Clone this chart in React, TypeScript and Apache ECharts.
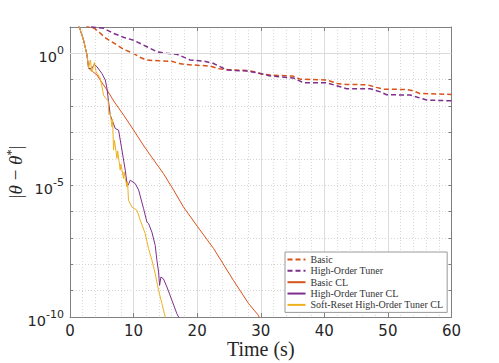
import React, { useEffect, useRef } from 'react';
import * as echarts from 'echarts';

// ---- data ----
const seriesNames = [
  'Basic',
  'High-Order Tuner',
  'Basic CL',
  'High-Order Tuner CL',
  'Soft-Reset High-Order Tuner CL',
];

const basicT = [0, 2.0, 2.8, 3.8, 4.6, 5.5, 6.5, 7.5, 8.5, 9.8, 11, 12, 14, 16, 17, 18, 20, 22, 23.5, 25, 28, 29, 30.2, 31.5, 35, 36.2, 40.4, 42, 43.5, 46.7, 48.2, 49.3, 53, 54, 55, 60];
const basicV = [60, 15, 10.2, 9.0, 6.3, 4.0, 2.8, 2.0, 1.4, 1.05, 0.71, 0.56, 0.52, 0.5, 0.42, 0.38, 0.355, 0.33, 0.26, 0.24, 0.224, 0.2, 0.162, 0.151, 0.138, 0.105, 0.098, 0.072, 0.066, 0.0646, 0.0513, 0.0437, 0.0427, 0.038, 0.0302, 0.0275];

const hotT = [0, 2.5, 3.1, 4.2, 5.3, 6.85, 8.5, 10, 12.1, 13.7, 15.2, 16.8, 18.9, 21, 22.5, 24.7, 27.8, 29.9, 31.5, 35.1, 36.2, 36.7, 40.4, 42.5, 43.5, 47.2, 48.8, 49.8, 53.5, 55, 56.1, 60];
const hotV = [80, 14, 10.5, 9.5, 8.9, 5.75, 4.0, 3.16, 1.78, 1.15, 1.0, 0.93, 0.56, 0.51, 0.42, 0.234, 0.214, 0.174, 0.138, 0.117, 0.089, 0.076, 0.076, 0.054, 0.0457, 0.0457, 0.0347, 0.0269, 0.0263, 0.0204, 0.017, 0.0158];

const basicClT = [0, 1.46, 2.14, 2.67, 2.93, 3.5, 4.24, 5.0, 5.81, 7, 8.42, 10, 11.3, 12.62, 14.7, 16.3, 17.85, 20, 22.57, 25.7, 28.1, 29.5, 30];
const basicClV = [150, 10, 3.16, 0.87, 0.27, 0.21, 0.151, 0.079, 0.041, 0.0141, 4.6e-3, 1.23e-3, 4.0e-4, 1.38e-4, 2.75e-5, 6.5e-6, 1.48e-6, 2.8e-7, 4.0e-8, 2.45e-9, 3.2e-10, 1.26e-10, 8e-11];

const hotClT = [0, 1.46, 2.14, 2.67, 2.93, 3.46, 3.82, 4.24, 5.0, 5.55, 5.81, 6.07, 6.33, 7.12, 7.64, 8.17, 8.69, 8.96, 9.15, 9.48, 10.26, 10.8, 11.57, 12.1, 12.36, 12.88, 13.4, 13.67, 13.93, 14.09, 14.3, 14.7, 15.24, 16.03, 16.8, 17.3];
const hotClV = [150, 10, 3.16, 0.87, 0.27, 0.27, 0.38, 0.31, 0.174, 0.098, 0.047, 0.0145, 4.6e-3, 1.41e-3, 1.23e-3, 2.14e-4, 3.7e-5, 1.15e-5, 1.0e-5, 1.55e-5, 1.15e-5, 6.5e-6, 1.29e-6, 4.0e-7, 3.5e-7, 1.66e-7, 5.2e-8, 1.41e-8, 5.1e-9, 1.58e-9, 3.3e-9, 2.8e-9, 1.38e-9, 4.3e-10, 1.35e-10, 8e-11];

const srHotClT = [0, 1.46, 2.14, 2.67, 2.93, 3.19, 3.46, 3.85, 4.1, 4.76, 5.28, 5.6, 6.0, 6.1, 6.33, 6.6, 6.7, 6.85, 7.0, 7.38, 7.5, 7.9, 8.0, 8.42, 8.5, 8.96, 9.05, 9.2, 9.74, 10.53, 11.05, 11.83, 12.36, 12.89, 13.4, 13.93, 14.46, 14.98, 15.2];
const srHotClV = [150, 10, 3.16, 0.87, 0.27, 0.56, 0.2, 0.45, 0.2, 0.115, 0.026, 0.02, 0.0158, 5.0e-3, 5.2e-3, 1.62e-3, 3.16e-3, 2.14e-4, 5.0e-4, 1.02e-4, 2.0e-4, 3.7e-5, 6.3e-5, 1.78e-5, 3.16e-5, 8.5e-6, 1.41e-5, 2.7e-6, 1.48e-6, 1.12e-6, 4.7e-7, 1.45e-7, 3.9e-8, 1.41e-8, 4.4e-9, 1.02e-9, 3.2e-10, 1e-10, 6.3e-11];

const xMin = 0;
const xMax = 60;
const xStep = 10;
const yMin = 1e-10;
const yMax = 10;
const yLabelExponents = [0, -5, -10];
const yMajorGrid = [1, 1e-5];

const colors = ['#D95319', '#7E2F8E', '#D95319', '#7E2F8E', '#EDB120'];

function pairs(t: number[], v: number[]) {
  return t.map((x, i) => [x, v[i]]);
}

export default function App() {
  const ref = useRef<HTMLDivElement>(null);
  useEffect(() => {
    const chart = echarts.init(ref.current!, undefined, { renderer: 'svg' });
    const axisColor = '#808080';
    const textColor = '#262626';
    const lineSeries = (idx: number, t: number[], v: number[], dashed: boolean) => ({
      name: seriesNames[idx],
      type: 'line',
      data: pairs(t, v),
      symbol: 'none',
      showSymbol: false,
      clip: true,
      z: 3 + idx,
      itemStyle: { color: colors[idx] },
      lineStyle: { color: colors[idx], width: dashed ? 1.5 : 1, type: dashed ? [5, 3] : 'solid' },
    });
    const option: any = {
      animation: false,
      backgroundColor: '#ffffff',
      grid: { left: 70, top: 27, width: 381.5, height: 290, containLabel: false, outerBoundsMode: 'none' },
      legend: {
        orient: 'vertical',
        left: 285,
        top: 252,
        itemWidth: 18,
        itemHeight: 8,
        itemGap: 0.35,
        padding: [2, 4, 2, 1.5],
        backgroundColor: '#ffffff',
        borderColor: '#999999',
        borderWidth: 1,
        borderRadius: 0,
        itemStyle: { opacity: 0, borderWidth: 0 },
        textStyle: { fontFamily: 'Liberation Serif', fontSize: 10, lineHeight: 11, color: '#333333' },
        data: seriesNames,
      },
      xAxis: [
        {
          type: 'value',
          min: xMin,
          max: xMax,
          interval: xStep,
          position: 'bottom',
          axisLine: { show: true, onZero: false, lineStyle: { color: axisColor, width: 1 } },
          axisTick: { show: true, inside: true, length: 4, lineStyle: { color: axisColor } },
          minorTick: { show: false, splitNumber: 5 },
          axisLabel: { fontSize: 15, fontFamily: 'DejaVu Sans', color: textColor, margin: 6 },
          splitLine: { show: true, lineStyle: { color: '#dcdcdc', width: 1 } },
          minorSplitLine: { show: true, lineStyle: { color: '#dadada', width: 1, type: [1, 2] } },
          name: 'Time (s)',
          nameLocation: 'middle',
          nameGap: 22,
          nameMoveOverlap: false,
          nameTextStyle: { fontFamily: 'Liberation Serif', fontSize: 20, color: textColor },
        },
        {
          type: 'value',
          min: xMin,
          max: xMax,
          interval: xStep,
          position: 'top',
          axisLine: { show: true, onZero: false, lineStyle: { color: axisColor, width: 1 } },
          axisTick: { show: true, inside: true, length: 4, lineStyle: { color: axisColor } },
          axisLabel: { show: false },
          splitLine: { show: false },
        },
      ],
      yAxis: [
        {
          type: 'log',
          logBase: 10,
          min: yMin,
          max: yMax,
          interval: 1,
          position: 'left',
          axisLine: { show: true, onZero: false, lineStyle: { color: axisColor, width: 1 } },
          axisTick: { show: true, inside: true, length: 3, lineStyle: { color: axisColor } },
          axisLabel: {
            margin: 6,
            formatter: (v: number) => {
              const e = Math.round(Math.log10(v));
              return yLabelExponents.includes(e) ? `{b|10}{s|${e}}` : '';
            },
            rich: {
              b: { fontSize: 14.5, fontFamily: 'DejaVu Sans', color: textColor, padding: [7, 0, 0, 0] },
              s: { fontSize: 11, fontFamily: 'DejaVu Sans', color: textColor, padding: [0, 0, 5, 0] },
            },
          },
          splitLine: { show: true, lineStyle: { color: '#d4d4d4', width: 1, type: [1, 2] } },
          name: '{u||}{i|θ}{u| − }{i|θ}{s|*}{u||}',
          nameLocation: 'middle',
          nameRotate: 90,
          nameGap: 45,
          nameMoveOverlap: false,
          nameTextStyle: {
            rich: {
              u: { fontFamily: 'Liberation Serif', fontSize: 19, color: textColor },
              i: { fontFamily: 'Liberation Serif', fontStyle: 'italic', fontSize: 19, color: textColor },
              s: { fontFamily: 'Liberation Serif', fontSize: 12, color: textColor, padding: [0, 0, 8, 0] },
            },
          },
        },
        {
          type: 'log',
          logBase: 10,
          min: yMin,
          max: yMax,
          interval: 1,
          position: 'right',
          axisLine: { show: true, onZero: false, lineStyle: { color: axisColor, width: 1 } },
          axisTick: { show: true, inside: true, length: 3, lineStyle: { color: axisColor } },
          axisLabel: { show: false },
          splitLine: { show: false },
        },
      ],
      series: [
        {
          name: 'majorGrid',
          type: 'line',
          data: [],
          z: 1,
          silent: true,
          markLine: {
            silent: true,
            symbol: 'none',
            label: { show: false },
            lineStyle: { color: '#dcdcdc', width: 1, type: 'solid' },
            data: yMajorGrid.map((y) => ({ yAxis: y })),
          },
        },
        lineSeries(0, basicT, basicV, true),
        lineSeries(1, hotT, hotV, true),
        lineSeries(2, basicClT, basicClV, false),
        lineSeries(3, hotClT, hotClV, false),
        lineSeries(4, srHotClT, srHotClV, false),
      ],
    };
    chart.setOption(option);
    return () => chart.dispose();
  }, []);
  return (
    <div
      ref={ref}
      style={{ position: 'absolute', left: 0, top: 0, width: 499, height: 363, background: '#fff' }}
    />
  );
}
